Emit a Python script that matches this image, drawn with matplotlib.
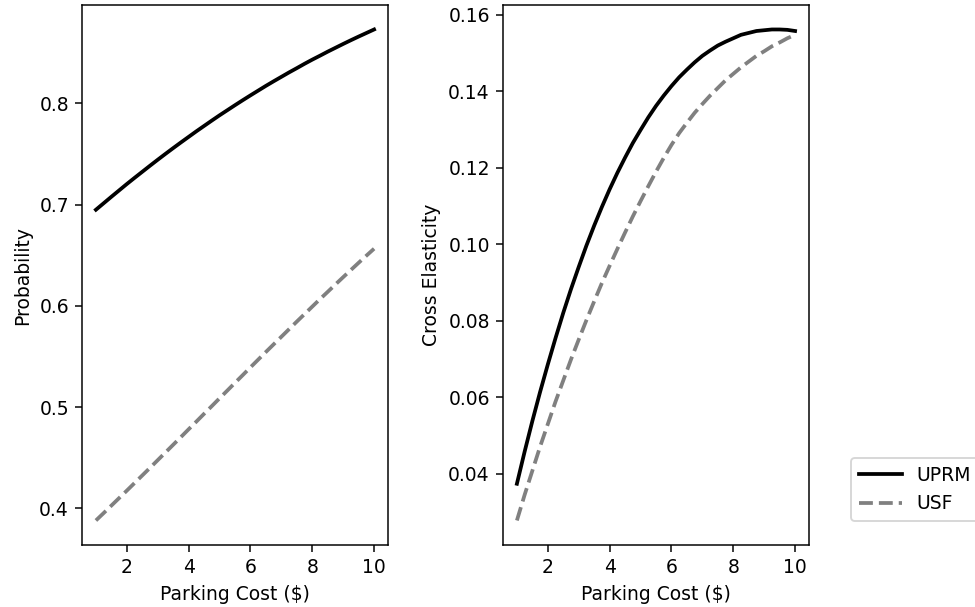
# Parking cost vs probability / cross elasticity

from matplotlib import pyplot as plt

# Data
parking_cost = [1.00, 1.25, 1.50, 1.75, 2.00, 2.25, 2.50, 2.75, 3.00, 3.25,
                3.50, 3.75, 4.00, 4.25, 4.50, 4.75, 5.00, 5.25, 5.50, 5.75,
                6.00, 6.25, 6.50, 6.75, 7.00, 7.25, 7.50, 7.75, 8.00, 8.25,
                8.50, 8.75, 9.00, 9.25, 9.50, 9.75, 10.00]

prob_uprm = [0.6949, 0.7013, 0.7077, 0.7140, 0.7203, 0.7264, 0.7324, 0.7384, 0.7443, 0.7501,
             0.7558, 0.7614, 0.7669, 0.7724, 0.7777, 0.7830, 0.7882, 0.7932, 0.7982, 0.8031,
             0.8079, 0.8126, 0.8173, 0.8218, 0.8262, 0.8306, 0.8348, 0.8391, 0.8432, 0.8471,
             0.8511, 0.8549, 0.8587, 0.8624, 0.8660, 0.8695, 0.8730]
prob_usf = [0.3879, 0.3952, 0.4026, 0.4100, 0.4174, 0.4249, 0.4324, 0.4399, 0.4475, 0.4551,
            0.4627, 0.4703, 0.4780, 0.4856, 0.4933, 0.5009, 0.5086, 0.5162, 0.5239, 0.5315,
            0.5392, 0.5468, 0.5544, 0.5619, 0.5694, 0.5769, 0.5844, 0.5918, 0.5992, 0.6066,
            0.6138, 0.6211, 0.6283, 0.6354, 0.6425, 0.6495, 0.6564]

elast_uprm = [0.0374, 0.0458, 0.0538, 0.0614, 0.0686, 0.0755, 0.0821, 0.0883, 0.0941, 0.0997,
              0.1049, 0.1098, 0.1144, 0.1187, 0.1227, 0.1265, 0.1299, 0.1332, 0.1362, 0.1389,
              0.1414, 0.1437, 0.1457, 0.1476, 0.1493, 0.1507, 0.1520, 0.1530, 0.1539, 0.1548,
              0.1553, 0.1558, 0.1560, 0.1562, 0.1562, 0.1561, 0.1558]
elast_usf = [0.0278, 0.0345, 0.0408, 0.0471, 0.0530, 0.0589, 0.0644, 0.0699, 0.0751, 0.0802,
             0.0851, 0.0899, 0.0944, 0.0988, 0.1031, 0.1073, 0.1113, 0.1152, 0.1190, 0.1226,
             0.1260, 0.1291, 0.1318, 0.1344, 0.1367, 0.1389, 0.1409, 0.1429, 0.1446, 0.1463,
             0.1478, 0.1493, 0.1505, 0.1518, 0.1528, 0.1539, 0.1548]

labels = ["UPRM", "USF"]

# Create new figure
fig, (ax1, ax2) = plt.subplots(1, 2, figsize=(7.2225, 4.4967), dpi=135)
fig.subplots_adjust(left=0.0841, right=0.8297, bottom=0.1021, top=0.9918, wspace=0.3758)

# Probability panel
ax1.plot(parking_cost, prob_uprm, color="black", linewidth=2, label=labels[0])
ax1.plot(parking_cost, prob_usf, color="gray", linewidth=2, linestyle="--", label=labels[1])
ax1.set_xlabel("Parking Cost ($)")
ax1.set_ylabel("Probability")

# Cross elasticity panel
ax2.plot(parking_cost, elast_uprm, color="black", linewidth=2)
ax2.plot(parking_cost, elast_usf, color="gray", linewidth=2, linestyle="--")
ax2.set_xlabel("Parking Cost ($)")
ax2.set_ylabel("Cross Elasticity")

for ax in (ax1, ax2):
    ax.set_xticks([2, 4, 6, 8, 10])

# Legend outside, lower right (cut by the figure edge as in the original)
fig.legend(loc="center left", bbox_to_anchor=(0.8632, 0.1936), handlelength=2.3)

fig.savefig("out.png", dpi=135)
plt.close(fig)
